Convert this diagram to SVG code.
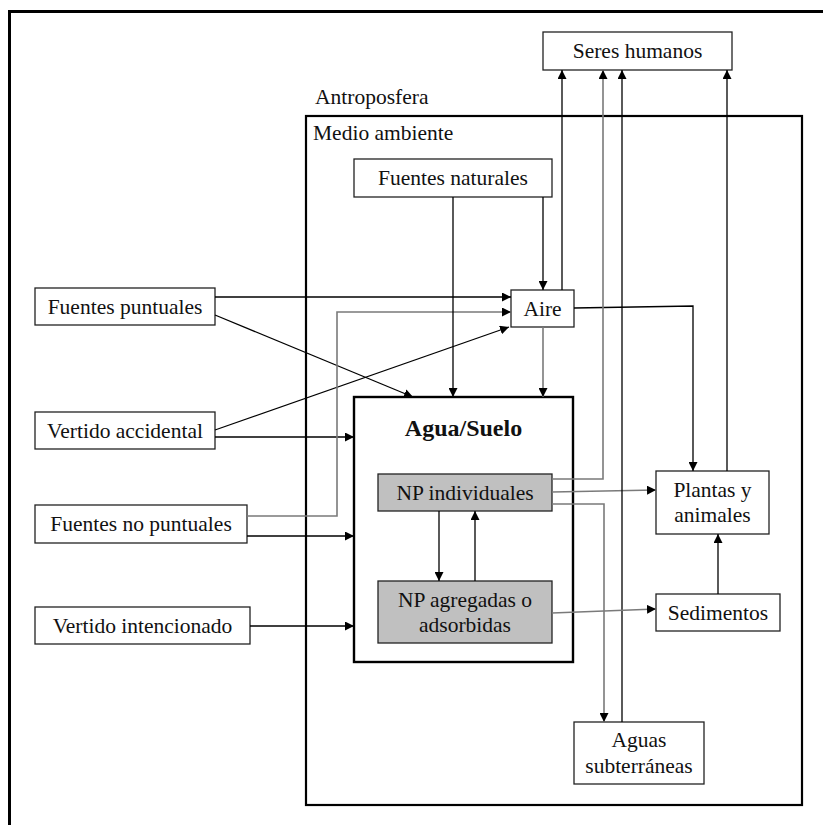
<svg xmlns="http://www.w3.org/2000/svg" width="823" height="825" viewBox="0 0 823 825" font-family="Liberation Serif, Times New Roman, serif">
<style>
.box{fill:#fff;stroke:#222;stroke-width:1.3}
.np{fill:#c0c0c0;stroke:#222;stroke-width:1.3}
.t{font-size:21.5px;fill:#111;text-anchor:middle}
.tl{font-size:21.5px;fill:#111}
.c{fill:none;stroke:#000;stroke-width:1.3}
.g{fill:none;stroke:#7a7a7a;stroke-width:1.6}
</style>
<defs>
<marker id="ah" viewBox="0 0 10 10" refX="10" refY="5" markerWidth="9" markerHeight="9" markerUnits="userSpaceOnUse" orient="auto">
<path d="M0,0 L10,5 L0,10 z" fill="#000"/>
</marker>
</defs>
<rect width="823" height="825" fill="#fff"/>
<path d="M9.5,825 V11.5 H823" fill="none" stroke="#000" stroke-width="3"/>
<g id="antroposfera"><text class="tl" x="315" y="104" font-family="Liberation Serif, serif">Antroposfera</text></g>
<g id="medio-ambiente">
<rect x="306" y="116" width="496" height="689" fill="none" stroke="#000" stroke-width="2.2"/>
<text class="tl" x="313" y="140" font-family="Liberation Serif, serif">Medio ambiente</text>
</g>
<g id="agua-suelo">
<rect x="354" y="397" width="219" height="265" fill="#fff" stroke="#000" stroke-width="2.4"/>
<text x="463.5" y="436" font-family="Liberation Serif, serif" font-size="24" font-weight="bold" text-anchor="middle" fill="#111">Agua/Suelo</text>
</g>
<g font-family="Liberation Serif, serif">
<g id="seres-humanos"><rect class="box" x="543" y="32" width="189" height="38"/><text class="t" x="637.5" y="58">Seres humanos</text></g>
<g id="fuentes-naturales"><rect class="box" x="354" y="159" width="198" height="38"/><text class="t" x="453" y="185">Fuentes naturales</text></g>
<g id="aire"><rect class="box" x="511" y="290" width="63" height="37"/><text class="t" x="542.5" y="316">Aire</text></g>
<g id="fuentes-puntuales"><rect class="box" x="35" y="288" width="180" height="37"/><text class="t" x="125" y="314">Fuentes puntuales</text></g>
<g id="vertido-accidental"><rect class="box" x="35" y="412" width="180" height="37"/><text class="t" x="125" y="438">Vertido accidental</text></g>
<g id="fuentes-no-puntuales"><rect class="box" x="35" y="505" width="212" height="38"/><text class="t" x="141" y="531">Fuentes no puntuales</text></g>
<g id="vertido-intencionado"><rect class="box" x="35" y="607" width="215" height="37"/><text class="t" x="142.5" y="633">Vertido intencionado</text></g>
<g id="np-individuales"><rect class="np" x="378" y="474" width="174" height="37"/><text class="t" x="465" y="500">NP individuales</text></g>
<g id="np-agregadas"><rect class="np" x="378" y="581" width="174" height="62"/><text class="t" x="465" y="607">NP agregadas o</text><text class="t" x="465" y="632">adsorbidas</text></g>
<g id="plantas-animales"><rect class="box" x="656" y="471" width="113" height="63"/><text class="t" x="712.5" y="497">Plantas y</text><text class="t" x="712.5" y="522">animales</text></g>
<g id="sedimentos"><rect class="box" x="656" y="594" width="124" height="37"/><text class="t" x="718" y="620">Sedimentos</text></g>
<g id="aguas-subterraneas"><rect class="box" x="574" y="722" width="130" height="62"/><text class="t" x="639" y="747">Aguas</text><text class="t" x="639" y="773">subterráneas</text></g>
</g>
<g id="connectors">
<path class="c" d="M215,297 H511" marker-end="url(#ah)"/>
<path class="c" d="M215,315 L413,397" marker-end="url(#ah)"/>
<path class="c" d="M215,430 L509,327" marker-end="url(#ah)"/>
<path class="c" d="M215,437 H354" marker-end="url(#ah)"/>
<path class="g" d="M247,516 H337 V312 H511" marker-end="url(#ah)"/>
<path class="c" d="M247,536 H354" marker-end="url(#ah)"/>
<path class="c" d="M250,626 H354" marker-end="url(#ah)"/>
<path class="c" d="M453,197 V397" marker-end="url(#ah)"/>
<path class="c" d="M543,197 V290" marker-end="url(#ah)"/>
<path class="g" d="M543,327 V397" marker-end="url(#ah)"/>
<path class="c" d="M562,290 V70" marker-end="url(#ah)"/>
<path class="c" d="M574,308 L693,306 V471" marker-end="url(#ah)"/>
<path class="g" d="M552,479 H603 V70" marker-end="url(#ah)"/>
<path class="g" d="M552,492 L656,490" marker-end="url(#ah)"/>
<path class="g" d="M552,504 H604 V722" marker-end="url(#ah)"/>
<path class="c" d="M622,722 V70" marker-end="url(#ah)"/>
<path class="c" d="M439,511 V581" marker-end="url(#ah)"/>
<path class="c" d="M475,581 V511" marker-end="url(#ah)"/>
<path class="g" d="M552,613 L656,609" marker-end="url(#ah)"/>
<path class="c" d="M718,594 V534" marker-end="url(#ah)"/>
<path class="c" d="M727,471 V70" marker-end="url(#ah)"/>
</g>
</svg>
